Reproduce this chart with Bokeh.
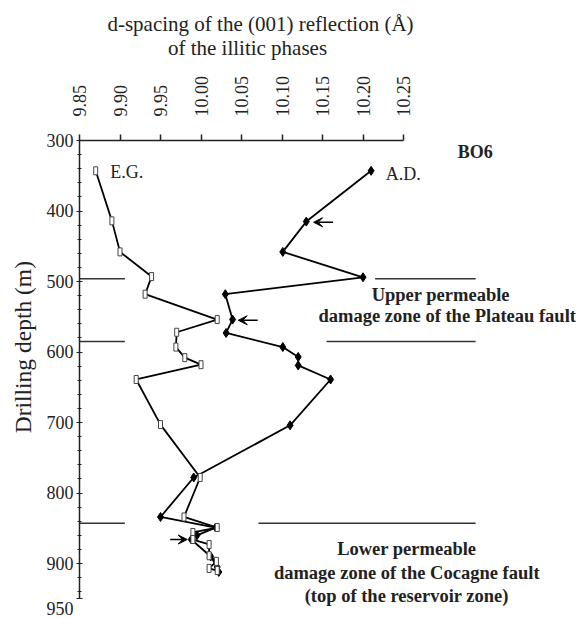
from bokeh.core.properties import value
from bokeh.embed import file_html
from bokeh.layouts import column
from bokeh.models import (Arrow, FixedTicker, Label, LinearAxis, NumeralTickFormatter,
                          Range1d, VeeHead)
from bokeh.plotting import figure
from bokeh.resources import INLINE

SERIF = "Liberation Serif"
AXIS_FONT = "'Liberation Serif', serif"
INK = "#222222"

# d-spacing of the (001) reflection (Angstrom) versus drilling depth (m), well BO6
eg_depth = [343, 414, 458, 493, 518, 554, 572, 593, 608, 618, 639, 703, 778, 834,
            849, 856, 866, 873, 889, 897, 907, 910]
eg_dspacing = [9.870, 9.890, 9.900, 9.939, 9.931, 10.020, 9.970, 9.969, 9.980, 10.000,
               9.920, 9.950, 9.999, 9.979, 10.020, 9.990, 9.990, 10.010, 10.010,
               10.019, 10.010, 10.020]

ad_depth = [343, 415, 458, 494, 518, 554, 573, 593, 607, 619, 639, 704, 778, 834,
            849, 860, 866, 890, 905, 912]
ad_dspacing = [10.210, 10.130, 10.101, 10.200, 10.030, 10.039, 10.031, 10.101, 10.120,
               10.120, 10.160, 10.110, 9.991, 9.950, 10.018, 9.995, 9.988, 10.012,
               10.020, 10.022]

dspacing_ticks = [9.85, 9.90, 9.95, 10.00, 10.05, 10.10, 10.15, 10.20, 10.25]
depth_ticks = [300, 400, 500, 600, 700, 800, 900, 950]
depth_minor = list(range(300, 951, 20))

# depth limits of the permeable damage zones
zone_depth = [496, 585, 843]

# scale of the log: 810 px per Angstrom, 70.5 px per 100 m
PX_X = 810.0
PX_Y = 0.705
FRAME_W, FRAME_H = 508, 478
LEFT, TOP = 79, 70
HEAD_H = 70

# ---- heading strip with the two-line axis title (frame aligned with the log) ----
head = figure(frame_width=FRAME_W, frame_height=HEAD_H,
              x_range=Range1d(LEFT, LEFT + FRAME_W), y_range=Range1d(HEAD_H, 0),
              min_border_left=LEFT, min_border_right=0, min_border_top=0,
              min_border_bottom=0, x_axis_location=None, y_axis_location=None,
              output_backend="svg", toolbar_location=None)
head.outline_line_color = None
head.grid.visible = False
head.text(x=[260, 247], y=[23, 47],
          text=["d-spacing of the (001) reflection (Å)", "of the illitic phases"],
          text_align="center", text_baseline="middle", text_font=value(SERIF),
          text_font_size="21px", text_color=INK)

# ---- main log ----
p = figure(
    frame_width=FRAME_W, frame_height=FRAME_H,
    x_range=Range1d(9.85, 9.85 + FRAME_W / PX_X),
    y_range=Range1d(300 + FRAME_H / PX_Y, 300),
    x_axis_location="above",
    min_border_left=LEFT, min_border_top=TOP,
    min_border_right=0, min_border_bottom=0,
    output_backend="svg", toolbar_location=None,
)
p.outline_line_color = None
p.grid.visible = False

# top axis: d-spacing
xa = p.xaxis[0]
xa.ticker = FixedTicker(ticks=dspacing_ticks, minor_ticks=[])
xa.formatter = NumeralTickFormatter(format="0.00")
xa.bounds = (9.85, 10.25)
xa.major_label_orientation = "vertical"
xa.major_label_text_font = AXIS_FONT
xa.major_label_text_font_size = "18px"
xa.major_label_text_color = INK
xa.major_label_standoff = 18
xa.major_tick_in = 0
xa.major_tick_out = 6
xa.minor_tick_out = 0
xa.axis_line_width = 1.5
xa.major_tick_line_width = 1.5
xa.axis_line_color = INK
xa.major_tick_line_color = INK

# left axis: drilling depth (the 950 label hangs below the end of the axis)
ya = p.yaxis[0]
ya.ticker = FixedTicker(ticks=depth_ticks, minor_ticks=depth_minor)
ya.bounds = (300, 950)
ya.major_label_overrides = {950: "\n950"}
ya.major_label_text_font = AXIS_FONT
ya.major_label_text_font_size = "18px"
ya.major_label_text_color = INK
ya.major_label_standoff = 3
ya.major_tick_in = 3
ya.major_tick_out = 3
ya.minor_tick_in = 2
ya.minor_tick_out = 2
ya.axis_line_width = 1.5
ya.major_tick_line_width = 1.2
ya.minor_tick_line_width = 1
ya.axis_line_color = INK
ya.major_tick_line_color = INK
ya.minor_tick_line_color = INK

# depth title on a bare outer axis; the leading no-break spaces lift it above mid-height
title_axis = LinearAxis(ticker=FixedTicker(ticks=[]),
                        axis_line_color=None, major_tick_line_color=None,
                        minor_tick_line_color=None, major_tick_out=0, minor_tick_out=0,
                        major_label_standoff=0, major_label_text_font_size="0px",
                        axis_label="\u00a0" * 11 + "Drilling depth (m)",
                        axis_label_standoff=8,
                        axis_label_text_font=AXIS_FONT, axis_label_text_font_size="23.5px",
                        axis_label_text_font_style="normal", axis_label_text_color=INK)
p.add_layout(title_axis, "left")

# damage-zone limits (left stub and right segment)
zone_left_end = [9.906, 9.906, 9.906]
zone_right_start = [10.215, 10.155, 10.071]
zone_right_end = [10.339, 10.339, 10.339]
p.segment(x0=[9.85] * 3, y0=zone_depth, x1=zone_left_end, y1=zone_depth,
          line_color="#333333", line_width=1.5)
p.segment(x0=zone_right_start, y0=zone_depth, x1=zone_right_end, y1=zone_depth,
          line_color="#333333", line_width=1.5)

# the two series
p.line(eg_dspacing, eg_depth, line_color="black", line_width=1.8)
p.line(ad_dspacing, ad_depth, line_color="black", line_width=1.8)
p.scatter(ad_dspacing, ad_depth, marker="diamond", size=9, color="black")
p.rect(x=eg_dspacing, y=eg_depth, width=4, height=8, width_units="screen",
       height_units="screen", fill_color="white", line_color="#444444", line_width=1)

# series names and well name
p.add_layout(Label(x=9.888, y=344, text="E.G.", text_align="left", text_baseline="middle",
                   text_font=SERIF, text_font_size="18px", text_color=INK))
p.add_layout(Label(x=10.228, y=347, text="A.D.", text_align="left", text_baseline="middle",
                   text_font=SERIF, text_font_size="18px", text_color=INK))
p.add_layout(Label(x=10.317, y=300, y_offset=-1, text="BO6", text_align="left",
                   text_baseline="top", text_font=SERIF, text_font_size="18px",
                   text_font_style="bold", text_color=INK))

# zone annotations
zone_text = [
    ("Upper permeable", 10.296, 519),
    ("damage zone of the Plateau fault", 10.304, 549),
    ("Lower permeable", 10.254, 879),
    ("damage zone of the Cocagne fault", 10.254, 913),
    ("(top of the reservoir zone)", 10.254, 946),
]
for txt, xx, yy in zone_text:
    p.add_layout(Label(x=xx, y=yy, text=txt, text_align="center", text_baseline="middle",
                       text_font=SERIF, text_font_size="18.5px", text_font_style="bold",
                       text_color=INK))

# arrows pointing at samples
arrows = [(10.163, 10.139, 416), (10.070, 10.046, 555), (9.962, 9.983, 866)]
for x_tail, x_tip, yy in arrows:
    p.add_layout(Arrow(x_start=x_tail, y_start=yy, x_end=x_tip, y_end=yy,
                       line_width=1.5, line_color="black",
                       end=VeeHead(size=9, fill_color="black", line_color="black",
                                   line_width=1)))

layout = column(head, p, spacing=0)
open("out.html", "w").write(file_html(layout, INLINE))
